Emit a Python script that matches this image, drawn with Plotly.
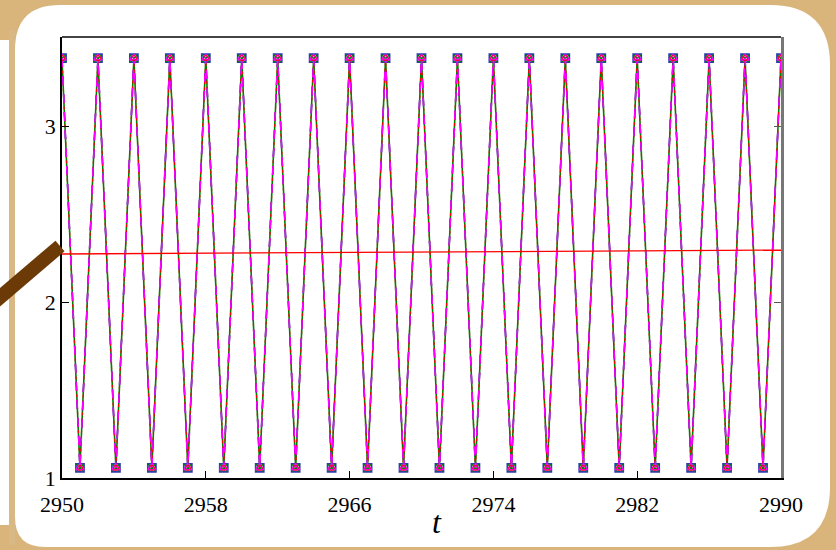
import plotly.graph_objects as go

t = [2950, 2951, 2952, 2953, 2954, 2955, 2956, 2957, 2958, 2959, 2960,
     2961, 2962, 2963, 2964, 2965, 2966, 2967, 2968, 2969, 2970,
     2971, 2972, 2973, 2974, 2975, 2976, 2977, 2978, 2979, 2980,
     2981, 2982, 2983, 2984, 2985, 2986, 2987, 2988, 2989, 2990]
hi, lo = 3.386, 1.057
series_a = [hi, lo, hi, lo, hi, lo, hi, lo, hi, lo, hi,
            lo, hi, lo, hi, lo, hi, lo, hi, lo, hi,
            lo, hi, lo, hi, lo, hi, lo, hi, lo, hi,
            lo, hi, lo, hi, lo, hi, lo, hi, lo, hi]
series_b = [3.384, 1.058, 3.384, 1.058, 3.384, 1.058, 3.384, 1.058, 3.384, 1.058, 3.384,
            1.058, 3.384, 1.058, 3.384, 1.058, 3.384, 1.058, 3.384, 1.058, 3.384,
            1.058, 3.384, 1.058, 3.384, 1.058, 3.384, 1.058, 3.384, 1.058, 3.384,
            1.058, 3.384, 1.058, 3.384, 1.058, 3.384, 1.058, 3.384, 1.058, 3.384]
mean_t = [2950, 2990]
mean_v = [2.273, 2.295]

x_ticks = [2950, 2958, 2966, 2974, 2982, 2990]
y_ticks = [1, 2, 3]
x_title = "t"

serif = "Liberation Serif"
fig = go.Figure()

fig.add_trace(go.Scatter(x=t, y=series_b, mode="lines", line=dict(color="green", width=1.6),
                         hoverinfo="skip"))
fig.add_trace(go.Scatter(x=t, y=series_a, mode="lines+markers",
                         line=dict(color="blue", width=1.4, dash="dash"),
                         marker=dict(symbol="square-open", size=8, color="#2a3fb0",
                                     line=dict(width=1.8, color="#2a3fb0"))))
fig.add_trace(go.Scatter(x=t, y=series_b, mode="lines+markers",
                         line=dict(color="red", width=1.2, dash="dot"),
                         marker=dict(symbol="x-thin-open", size=7, color="green",
                                     line=dict(width=1.4, color="green"))))
fig.add_trace(go.Scatter(x=t, y=series_a, mode="lines+markers",
                         line=dict(color="magenta", width=1.6, dash="dash"),
                         marker=dict(symbol="triangle-up-open", size=7, color="magenta",
                                     line=dict(width=1.6, color="magenta"))))
fig.add_trace(go.Scatter(x=t, y=series_a, mode="markers",
                         marker=dict(symbol="circle-open", size=5, color="red",
                                     line=dict(width=1, color="red"))))
fig.add_trace(go.Scatter(x=mean_t, y=mean_v, mode="lines", line=dict(color="red", width=1.3)))
fig.add_trace(go.Scatter(x=mean_t, y=mean_v, yaxis="y2", mode="lines",
                         line=dict(color="rgba(0,0,0,0)"), hoverinfo="skip"))

W, H = 836, 550
ml, mr, mt, mb = 62, 55, 37, 72
pw, ph = W - ml - mr, H - mt - mb

def px(xp):
    return (xp - ml) / pw

def py(yp):
    return (H - mb - yp) / ph

x0, x1, y0, y1 = 15, 830, 5, 547
rtl, rtr, rbr, rbl = 45, 60, 60, 30
pts = (f"M {px(x0+rtl)},{py(y0)} L {px(x1-rtr)},{py(y0)} "
       f"Q {px(x1)},{py(y0)} {px(x1)},{py(y0+rtr)} "
       f"L {px(x1)},{py(y1-rbr)} Q {px(x1)},{py(y1)} {px(x1-rbr)},{py(y1)} "
       f"L {px(x0+rbl)},{py(y1)} Q {px(x0)},{py(y1)} {px(x0)},{py(y1-rbl)} "
       f"L {px(x0)},{py(y0+rtl)} Q {px(x0)},{py(y0)} {px(x0+rtl)},{py(y0)} Z")
shapes = [
    dict(type="path", xref="paper", yref="paper", layer="below", path=pts,
         fillcolor="white", line=dict(width=0)),
    dict(type="rect", xref="paper", yref="paper", layer="below",
         x0=px(0), x1=px(9), y0=py(40), y1=py(525), fillcolor="white", line=dict(width=0)),
    dict(type="rect", xref="paper", yref="paper", layer="below",
         x0=px(9), x1=px(15), y0=py(30), y1=py(545), fillcolor="#d8b985", line=dict(width=0)),
    dict(type="line", xref="paper", yref="paper", layer="above",
         x0=px(-8), y0=py(304), x1=px(60), y1=py(246),
         line=dict(color="#6b3a06", width=14)),
    dict(type="line", xref="paper", yref="paper", x0=0, x1=1, y0=1, y1=1,
         line=dict(color="#444444", width=2)),
]

fig.update_layout(
    width=W, height=H,
    margin=dict(l=ml, r=mr, t=mt, b=mb, autoexpand=False),
    paper_bgcolor="#d9b57c",
    plot_bgcolor="white",
    showlegend=False,
    shapes=shapes,
    annotations=[dict(text=f"<i>{x_title}</i>", xref="paper", yref="paper",
                      x=px(437), y=py(522), xanchor="center", yanchor="middle",
                      showarrow=False, font=dict(family=serif, size=32, color="black"))],
    xaxis=dict(range=[2950, 2990], tickvals=x_ticks, ticks="inside", ticklen=7,
               tickcolor="black", showline=True, linecolor="black", linewidth=1.5,
               showgrid=False, zeroline=False, automargin=False, ticklabelstandoff=6,
               tickfont=dict(family=serif, size=22, color="black")),
    yaxis=dict(range=[1, 3.506], tickvals=y_ticks, ticks="inside", ticklen=7,
               tickcolor="black", showline=True, linecolor="black", linewidth=1.5,
               showgrid=False, zeroline=False, automargin=False, ticklabelstandoff=0,
               tickfont=dict(family=serif, size=22, color="black")),
    yaxis2=dict(range=[1, 3.506], overlaying="y", side="right", tickvals=y_ticks,
                ticks="inside", ticklen=7, tickcolor="#555555", showticklabels=False,
                showline=True, linecolor="#777777", linewidth=3, automargin=False,
                showgrid=False, zeroline=False),
)

fig.write_html("out.html", config={"displayModeBar": False},
               post_script="document.body.style.margin='0';")
